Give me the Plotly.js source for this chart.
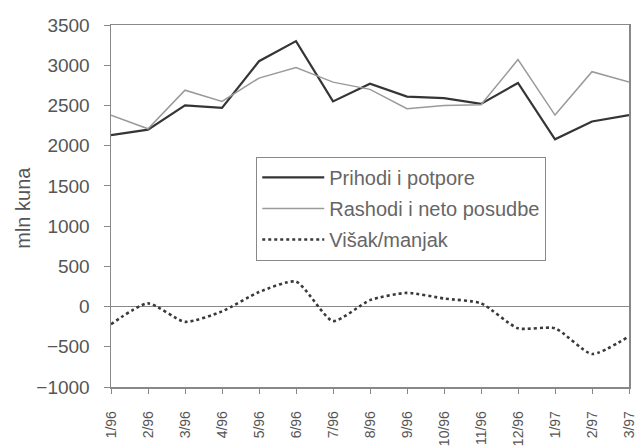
<!DOCTYPE html>
<html>
<head>
<meta charset="utf-8">
<script src="https://cdn.plot.ly/plotly-3.0.1.min.js"></script>
<style>html,body{margin:0;padding:0;background:#fff;}#chart{width:637px;height:448px;}</style>
</head>
<body>
<div id="chart"></div>
<script>
const months = ["1/96","2/96","3/96","4/96","5/96","6/96","7/96","8/96","9/96","10/96","11/96","12/96","1/97","2/97","3/97"];
const prihodi = [2130, 2200, 2500, 2470, 3050, 3300, 2550, 2770, 2610, 2590, 2520, 2780, 2080, 2300, 2380];
const rashodi = [2380, 2210, 2690, 2550, 2840, 2970, 2790, 2700, 2460, 2500, 2510, 3070, 2380, 2920, 2790];
const visak = [-220, 40, -190, -60, 180, 310, -180, 80, 170, 100, 40, -270, -270, -590, -370];
const names = ["Prihodi i potpore", "Rashodi i neto posudbe", "Višak/manjak"];
const yTicks = [-1000, -500, 0, 500, 1000, 1500, 2000, 2500, 3000, 3500];

const font = "Liberation Sans, Arial, sans-serif";
const traces = [
  {x: months, y: prihodi, name: names[0], legendgroup: "a", type: "scatter", mode: "lines",
   line: {color: "#353535", width: 2.2}},
  {x: months, y: rashodi, name: names[1], legendgroup: "b", type: "scatter", mode: "lines",
   line: {color: "#9a9a9a", width: 1.5}},
  {x: months, y: visak, name: names[2], legendgroup: "c", type: "scatter", mode: "lines",
   line: {color: "#3a3a3a", width: 2.6, dash: "dot", shape: "spline", smoothing: 0.6}}
];
const layout = {
  width: 637, height: 448,
  margin: {l: 111, r: 8, t: 25, b: 61},
  paper_bgcolor: "#fff", plot_bgcolor: "#fff",
  font: {family: font, color: "#555"},
  showlegend: true,
  legend: {
    x: 0.28, y: 0.636, xanchor: "left", yanchor: "top",
    bgcolor: "#fff", bordercolor: "#888", borderwidth: 1.2,
    font: {size: 20, color: "#666"}, itemwidth: 62,
    tracegroupgap: 2
  },
  xaxis: {
    type: "category", range: [0, months.length - 1],
    showgrid: false, showline: true, linecolor: "#888", linewidth: 1.5, mirror: true,
    ticks: "outside", ticklen: 5, tickcolor: "#888", tickwidth: 1,
    tickangle: -90, tickfont: {size: 14, color: "#555"}, ticklabelstandoff: 12,
    zeroline: false
  },
  yaxis: {
    range: [-1000, 3500], tickvals: yTicks,
    showgrid: false, showline: true, linecolor: "#888", linewidth: 1.5, mirror: true,
    ticks: "outside", ticklen: 6, tickcolor: "#888", tickwidth: 1,
    tickfont: {size: 19, color: "#555"}, ticklabelstandoff: 10,
    zeroline: true, zerolinecolor: "#888", zerolinewidth: 1.2
  },
  annotations: [{
    text: "mln kuna", textangle: -90, showarrow: false,
    xref: "paper", yref: "paper", x: -0.17, y: 0.495, xanchor: "center", yanchor: "middle",
    font: {size: 20, color: "#555", family: font}
  }]
};
Plotly.newPlot("chart", traces, layout, {displayModeBar: false, staticPlot: true});
</script>
</body>
</html>
